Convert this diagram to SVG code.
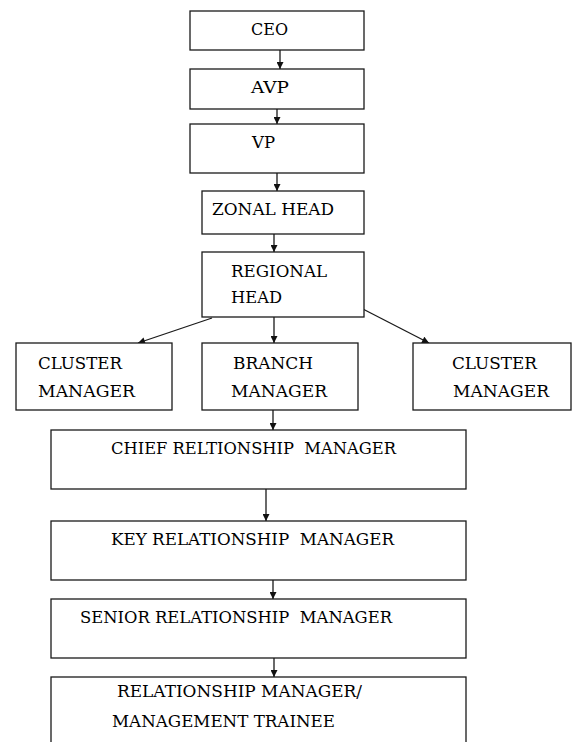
<svg xmlns="http://www.w3.org/2000/svg" width="573" height="742" viewBox="0 0 573 742">
  <style>
    .box { fill: #fff; stroke: #1a1a1a; stroke-width: 1.3; }
    .lbl { font-family: 'DejaVu Serif', 'Liberation Serif', serif; font-size: 17px; fill: #000; }
    .edge { stroke: #1a1a1a; stroke-width: 1.3; fill: none; marker-end: url(#arrow); }
  </style>
  <defs>
    <marker id="arrow" viewBox="0 0 10 10" refX="10" refY="5" markerWidth="8" markerHeight="7" markerUnits="userSpaceOnUse" orient="auto">
      <path d="M0,0 L10,5 L0,10 z" fill="#111"/>
    </marker>
  </defs>
  <rect width="573" height="742" fill="#fff"/>

  <g id="connectors">
    <line class="edge" x1="280" y1="50" x2="280" y2="69"/>
    <line class="edge" x1="277" y1="109" x2="277" y2="124"/>
    <line class="edge" x1="277" y1="173" x2="277" y2="191"/>
    <line class="edge" x1="274" y1="234" x2="274" y2="252"/>
    <line class="edge" x1="274" y1="317" x2="274" y2="343"/>
    <line class="edge" x1="212" y1="318" x2="138" y2="343"/>
    <line class="edge" x1="359" y1="307" x2="429" y2="343"/>
    <line class="edge" x1="273" y1="410" x2="273" y2="430"/>
    <line class="edge" x1="266" y1="489" x2="266" y2="521"/>
    <line class="edge" x1="273" y1="580" x2="273" y2="599"/>
    <line class="edge" x1="274" y1="658" x2="274" y2="677"/>
  </g>

  <g id="ceo">
    <rect class="box" x="190" y="11" width="174" height="39"/>
    <text class="lbl" x="251" y="35" textLength="37" lengthAdjust="spacingAndGlyphs">CEO</text>
  </g>
  <g id="avp">
    <rect class="box" x="190" y="69" width="174" height="40"/>
    <text class="lbl" x="251" y="93" textLength="38" lengthAdjust="spacingAndGlyphs">AVP</text>
  </g>
  <g id="vp">
    <rect class="box" x="190" y="124" width="174" height="49"/>
    <text class="lbl" x="252" y="148" textLength="23" lengthAdjust="spacingAndGlyphs">VP</text>
  </g>
  <g id="zonal-head">
    <rect class="box" x="202" y="191" width="162" height="43"/>
    <text class="lbl" x="212" y="215" textLength="122" lengthAdjust="spacingAndGlyphs">ZONAL HEAD</text>
  </g>
  <g id="regional-head">
    <rect class="box" x="202" y="252" width="162" height="65"/>
    <text class="lbl" x="231" y="277" textLength="96" lengthAdjust="spacingAndGlyphs">REGIONAL</text>
    <text class="lbl" x="231" y="303" textLength="51" lengthAdjust="spacingAndGlyphs">HEAD</text>
  </g>
  <g id="cluster-manager-left">
    <rect class="box" x="16" y="343" width="156" height="67"/>
    <text class="lbl" x="38" y="369" textLength="84" lengthAdjust="spacingAndGlyphs">CLUSTER</text>
    <text class="lbl" x="38" y="397" textLength="97" lengthAdjust="spacingAndGlyphs">MANAGER</text>
  </g>
  <g id="branch-manager">
    <rect class="box" x="202" y="343" width="156" height="67"/>
    <text class="lbl" x="233" y="369" textLength="80" lengthAdjust="spacingAndGlyphs">BRANCH</text>
    <text class="lbl" x="231" y="397" textLength="96" lengthAdjust="spacingAndGlyphs">MANAGER</text>
  </g>
  <g id="cluster-manager-right">
    <rect class="box" x="413" y="343" width="158" height="67"/>
    <text class="lbl" x="452" y="369" textLength="85" lengthAdjust="spacingAndGlyphs">CLUSTER</text>
    <text class="lbl" x="453" y="397" textLength="96" lengthAdjust="spacingAndGlyphs">MANAGER</text>
  </g>
  <g id="chief-rm">
    <rect class="box" x="51" y="430" width="415" height="59"/>
    <text class="lbl" x="111" y="454" textLength="285" lengthAdjust="spacingAndGlyphs" xml:space="preserve">CHIEF RELTIONSHIP  MANAGER</text>
  </g>
  <g id="key-rm">
    <rect class="box" x="51" y="521" width="415" height="59"/>
    <text class="lbl" x="111" y="545" textLength="283" lengthAdjust="spacingAndGlyphs" xml:space="preserve">KEY RELATIONSHIP  MANAGER</text>
  </g>
  <g id="senior-rm">
    <rect class="box" x="51" y="599" width="415" height="59"/>
    <text class="lbl" x="80" y="623" textLength="312" lengthAdjust="spacingAndGlyphs" xml:space="preserve">SENIOR RELATIONSHIP  MANAGER</text>
  </g>
  <g id="rm-trainee">
    <rect class="box" x="51" y="677" width="415" height="80"/>
    <text class="lbl" x="117" y="697" textLength="245" lengthAdjust="spacingAndGlyphs">RELATIONSHIP MANAGER/</text>
    <text class="lbl" x="112" y="727" textLength="223" lengthAdjust="spacingAndGlyphs">MANAGEMENT TRAINEE</text>
  </g>
</svg>
